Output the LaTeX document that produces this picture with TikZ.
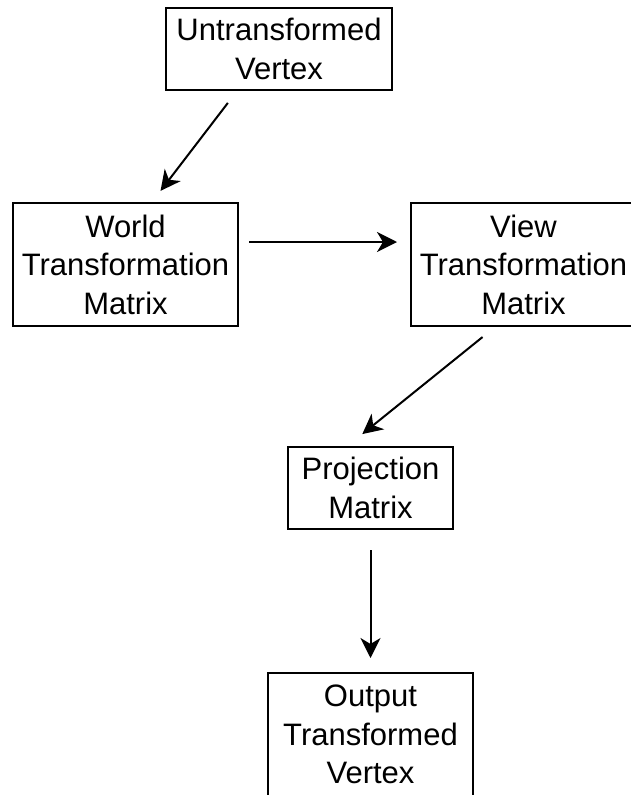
\documentclass[tikz,border=0pt]{standalone}
\usepackage{fontspec}
\setmainfont{Liberation Sans}
\usetikzlibrary{arrows.meta}
\begin{document}
\begin{tikzpicture}[x=1pt,y=-1pt,
        box/.style={draw,line width=2pt,align=center,inner sep=0pt,font=\fontsize{31}{38.5}\selectfont},
        flow/.style={-{Stealth[length=20pt,width=20pt,inset=6pt]},line width=2pt}]
        \useasboundingbox (0,0) rectangle (631,795);
        \clip (0,0) rectangle (631,795);
        \node[box,minimum width=226pt,minimum height=82pt] (untr) at (279,49) {Untransformed\\Vertex};
        \node[box,minimum width=225pt,minimum height=123pt] (world) at (125.5,264.5) {World\\Transformation\\Matrix};
        \node[box,minimum width=225pt,minimum height=123pt] (view) at (523.5,264.5) {View\\Transformation\\Matrix};
        \node[box,minimum width=165pt,minimum height=82pt] (proj) at (370.5,488) {Projection\\Matrix};
        \node[box,minimum width=205pt,minimum height=123pt] (out) at (370.5,734.5) {Output\\Transformed\\Vertex};
        \draw[flow,shorten <=15pt,shorten >=14pt] ([xshift=-42pt]untr.south) -- ([xshift=26.5pt]world.north);
        \draw[flow,shorten <=10pt,shorten >=13pt] ([yshift=22.5pt]world.east) -- ([yshift=22.5pt]view.west);
        \draw[flow,shorten <=16pt,shorten >=19pt] ([xshift=-28.5pt]view.south) -- ([xshift=-23pt]proj.north);
        \draw[flow,shorten <=20pt,shorten >=14pt] (proj.south) -- (out.north);
\end{tikzpicture}
\end{document}
